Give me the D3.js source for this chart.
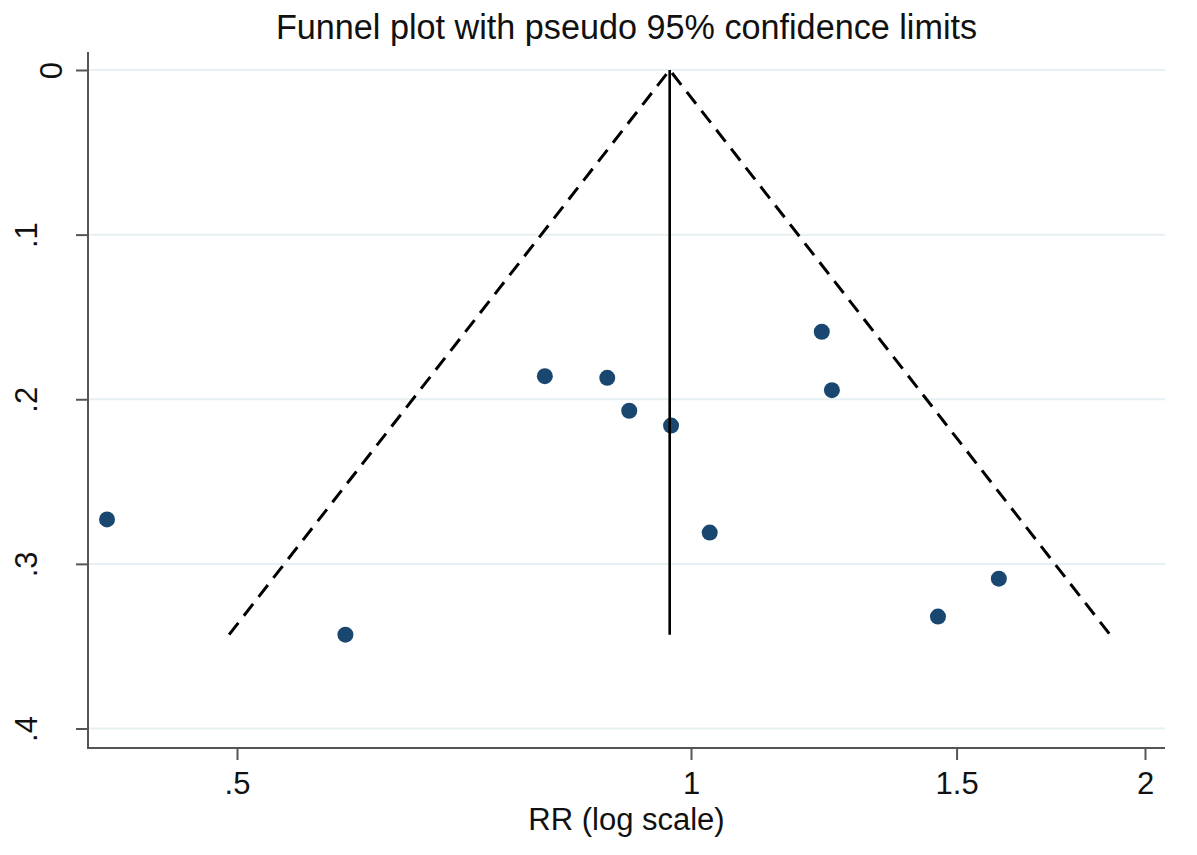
<!DOCTYPE html>
<html>
<head>
<meta charset="utf-8">
<script src="https://cdn.jsdelivr.net/npm/d3@7"></script>
<style>
  html, body { margin: 0; padding: 0; background: #fff; }
  svg { display: block; font-family: "Liberation Sans", Arial, sans-serif; }
</style>
</head>
<body>
<svg id="chart" width="1197" height="855"></svg>
<script>
// study estimates: risk ratio and its standard error (of log RR)
const rr = [0.410, 0.590, 0.800, 0.880, 0.910, 0.970, 1.029, 1.221, 1.240, 1.458, 1.600];
const se = [0.273, 0.343, 0.186, 0.187, 0.207, 0.216, 0.281, 0.159, 0.1945, 0.332, 0.309];

// pseudo 95% limits: apex and the two bottom corners
const funnelRR = [0.494, 0.968, 1.896];
const funnelSE = [0.343, 0, 0.343];

// pooled estimate line
const pooledRR = [0.968, 0.968];
const pooledSE = [0, 0.343];

const xTicks = [0.5, 1, 1.5, 2];
const xTickLabels = ['.5', '1', '1.5', '2'];
const yTicks = [0, 0.1, 0.2, 0.3, 0.4];
const yTickLabels = ['0', '.1', '.2', '.3', '.4'];

const plot = { left: 88, right: 1165, top: 52, bottom: 748 };

const svg = d3.select('#chart');

const x = d3.scaleLog()
    .domain([0.5, 2])
    .range([237, 1145]);

const y = d3.scaleLinear()
    .domain([0, 0.4])
    .range([70, 728.5]);

// gridlines
svg.append('g')
    .selectAll('line')
    .data(yTicks)
    .join('line')
    .attr('x1', plot.left + 1)
    .attr('x2', plot.right)
    .attr('y1', d => y(d))
    .attr('y2', d => y(d))
    .attr('stroke', '#e6eff1')
    .attr('stroke-width', 2);

// y axis
const yAxis = svg.append('g')
    .attr('transform', 'translate(' + plot.left + ',0)')
    .call(d3.axisLeft(y).tickValues(yTicks).tickSize(12)
        .tickFormat((d, i) => yTickLabels[i]));
yAxis.select('.domain').remove();
yAxis.selectAll('.tick line').attr('stroke', '#555').attr('stroke-width', 2);
yAxis.selectAll('.tick text')
    .attr('fill', '#111')
    .style('font-size', '31px')
    .attr('text-anchor', 'middle')
    .attr('x', null).attr('dy', null)
    .attr('transform', d => 'translate(' + (d === 0 ? -26 : -51) + ',0) rotate(-90)');

// x axis
const xAxis = svg.append('g')
    .attr('transform', 'translate(0,' + plot.bottom + ')')
    .call(d3.axisBottom(x).tickValues(xTicks).tickSize(12)
        .tickFormat((d, i) => xTickLabels[i]));
xAxis.select('.domain').remove();
xAxis.selectAll('.tick line').attr('stroke', '#555').attr('stroke-width', 2);
xAxis.selectAll('.tick text')
    .attr('fill', '#111')
    .style('font-size', '31px')
    .attr('y', 46).attr('dy', null);

// axis lines
svg.append('line')
    .attr('x1', plot.left).attr('x2', plot.left)
    .attr('y1', plot.top).attr('y2', plot.bottom + 1)
    .attr('stroke', '#555').attr('stroke-width', 2);
svg.append('line')
    .attr('x1', plot.left - 1).attr('x2', plot.right)
    .attr('y1', plot.bottom).attr('y2', plot.bottom)
    .attr('stroke', '#555').attr('stroke-width', 2);

// study points
svg.append('g')
    .selectAll('circle')
    .data(rr.map((d, i) => ({ rr: d, se: se[i] })))
    .join('circle')
    .attr('cx', d => x(d.rr))
    .attr('cy', d => y(d.se))
    .attr('r', 8)
    .attr('fill', '#1a476f');

const line = d3.line()
    .x(d => x(d[0]))
    .y(d => y(d[1]));

// funnel limits
svg.append('path')
    .attr('d', line(funnelRR.map((d, i) => [d, funnelSE[i]])))
    .attr('fill', 'none')
    .attr('stroke', '#000')
    .attr('stroke-width', 3)
    .attr('stroke-dasharray', '15 9');

// pooled estimate
svg.append('path')
    .attr('d', line(pooledRR.map((d, i) => [d, pooledSE[i]])))
    .attr('fill', 'none')
    .attr('stroke', '#000')
    .attr('stroke-width', 2.6);

// titles
svg.append('text')
    .attr('x', (plot.left + plot.right) / 2)
    .attr('y', 39)
    .attr('text-anchor', 'middle')
    .style('font-size', '34.2px')
    .attr('fill', '#111')
    .text('Funnel plot with pseudo 95% confidence limits');

svg.append('text')
    .attr('x', (plot.left + plot.right) / 2)
    .attr('y', 830)
    .attr('text-anchor', 'middle')
    .style('font-size', '31px')
    .attr('fill', '#111')
    .text('RR (log scale)');
</script>
</body>
</html>
